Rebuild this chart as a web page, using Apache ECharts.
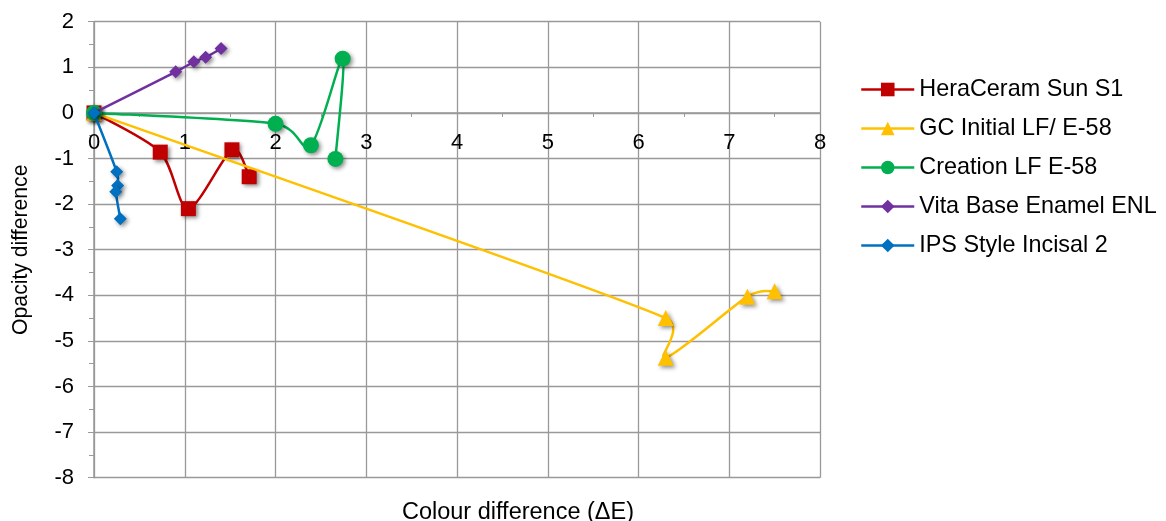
<!DOCTYPE html>
<html>
<head>
<meta charset="utf-8">
<script src="https://cdn.jsdelivr.net/npm/echarts@6/dist/echarts.min.js"></script>
<style>
  html, body { margin: 0; padding: 0; background: #fff; }
  #chart { width: 1166px; height: 521px; }
</style>
</head>
<body>
<div id="chart"></div>
<script>
/* 数据：[ΔE, 不透明度差] */
const seriesNames = ['HeraCeram Sun S1', 'GC Initial LF/ E-58', 'Creation LF E-58', 'Vita Base Enamel ENL', 'IPS Style Incisal 2'];
const heraCeram = [[0, 0], [0.73, -0.86], [1.04, -2.1], [1.52, -0.81], [1.71, -1.4]];
const gcInitial = [[0, 0], [6.3, -4.5], [6.3, -5.37], [7.2, -4.03], [7.5, -3.91]];
const creation = [[0, 0], [2.0, -0.24], [2.39, -0.71], [2.74, 1.19], [2.66, -1.01]];
const vitaBase = [[0, 0], [0.9, 0.9], [1.1, 1.12], [1.23, 1.22], [1.4, 1.41]];
const ipsStyle = [[0, 0], [0.25, -1.29], [0.26, -1.59], [0.24, -1.73], [0.29, -2.32]];

const colors = ['#C00000', '#FFC000', '#00B050', '#7030A0', '#0070C0'];
const symbols = ['rect', 'triangle', 'circle', 'diamond', 'diamond'];
const symbolSizes = [15, 16, 16, 13, 13];
const allData = [heraCeram, gcInitial, creation, vitaBase, ipsStyle];

const font = 'Arial, "Liberation Sans", sans-serif';
const gridColor = '#999999';

var chart = echarts.init(document.getElementById('chart'), null, { renderer: 'canvas' });

/* Excel 风格的平滑曲线 (Catmull-Rom -> Bezier，控制臂限制长度) */
function arm(a, b, segLen) {
    let dx = (b[0] - a[0]) / 7, dy = (b[1] - a[1]) / 7;
    let len = Math.sqrt(dx * dx + dy * dy);
    let maxLen = segLen * 0.6;
    if (len > maxLen && len > 0) {
        dx = dx * maxLen / len;
        dy = dy * maxLen / len;
    }
    return [dx, dy];
}

function smoothCurve(data, color) {
    return function (params, api) {
        if (params.dataIndex !== 0) return null;
        let pts = data.map(p => api.coord(p));
        let n = pts.length;
        let children = [];
        for (let i = 0; i < n - 1; i++) {
            let p0 = pts[Math.max(i - 1, 0)];
            let p1 = pts[i];
            let p2 = pts[i + 1];
            let p3 = pts[Math.min(i + 2, n - 1)];
            let segLen = Math.sqrt((p2[0] - p1[0]) ** 2 + (p2[1] - p1[1]) ** 2);
            let a1 = arm(p0, p2, segLen);
            let a2 = arm(p1, p3, segLen);
            children.push({
                type: 'bezierCurve',
                shape: {
                    x1: p1[0], y1: p1[1],
                    x2: p2[0], y2: p2[1],
                    cpx1: p1[0] + a1[0],
                    cpy1: p1[1] + a1[1],
                    cpx2: p2[0] - a2[0],
                    cpy2: p2[1] - a2[1]
                },
                style: { stroke: color, lineWidth: 2.5, fill: null }
            });
        }
        return { type: 'group', children: children };
    };
}

let series = [];
allData.forEach((d, i) => {
    // 曲线
    series.push({
        name: seriesNames[i] + ' line',
        type: 'custom',
        coordinateSystem: 'cartesian2d',
        data: d,
        encode: { x: 0, y: 1 },
        silent: true,
        z: 2 + i * 2,
        renderItem: smoothCurve(d, colors[i])
    });
    // 标记点
    series.push({
        name: seriesNames[i],
        type: 'line',
        data: d,
        symbol: symbols[i],
        symbolSize: symbolSizes[i],
        showAllSymbol: true,
        z: 3 + i * 2,
        lineStyle: { color: colors[i], width: 2.5, opacity: 0 },
        itemStyle: {
            color: colors[i],
            shadowColor: 'rgba(0,0,0,0.45)',
            shadowBlur: 4,
            shadowOffsetX: 2,
            shadowOffsetY: 2
        },
        emphasis: { disabled: true }
    });
});

chart.setOption({
    animation: false,
    textStyle: { fontFamily: font },
    title: {
        text: 'Colour difference (ΔE)',
        left: 513,
        top: 496,
        textAlign: 'center',
        textStyle: { fontFamily: font, fontSize: 23.5, fontWeight: 'normal', color: '#000' }
    },
    legend: {
        orient: 'vertical',
        left: 855,
        top: 73,
        itemWidth: 53,
        itemHeight: 17,
        itemGap: 16,
        textStyle: { fontFamily: font, fontSize: 23.4, color: '#000' },
        data: seriesNames.map((name, i) => ({
            name: name,
            lineStyle: { color: colors[i], width: 2.5, opacity: 1 },
            itemStyle: { color: colors[i], shadowBlur: 0, shadowOffsetX: 0, shadowOffsetY: 0 }
        }))
    },
    grid: {
        left: 94,
        right: 346,
        top: 21.7,
        bottom: 43.3,
        containLabel: false
    },
    xAxis: {
        type: 'value',
        min: 0,
        max: 8,
        interval: 1,
        offset: -364.8,
        axisLine: { onZero: false, lineStyle: { color: gridColor, width: 1.5 } },
        axisTick: { show: true, length: 5, lineStyle: { color: gridColor } },
        minorTick: { show: true, splitNumber: 2, length: 4, lineStyle: { color: gridColor } },
        axisLabel: { fontFamily: font, fontSize: 22, color: '#000', margin: 19 },
        splitLine: { show: true, lineStyle: { color: gridColor, width: 1.3 } }
    },
    yAxis: {
        type: 'value',
        min: -8,
        max: 2,
        interval: 1,
        name: 'Opacity difference',
        nameLocation: 'middle',
        nameGap: 62,
        nameTextStyle: { fontFamily: font, fontSize: 21.2, color: '#000' },
        axisLine: { onZero: false, show: true, lineStyle: { color: gridColor, width: 1.5 } },
        axisTick: { show: true, length: 6, lineStyle: { color: gridColor } },
        minorTick: { show: true, splitNumber: 2, length: 5, lineStyle: { color: gridColor } },
        axisLabel: { fontFamily: font, fontSize: 22, color: '#000', margin: 20 },
        splitLine: { show: true, lineStyle: { color: gridColor, width: 1.3 } }
    },
    series: series
});

window.addEventListener('resize', function () {
    chart.resize();
});
</script>
</body>
</html>
